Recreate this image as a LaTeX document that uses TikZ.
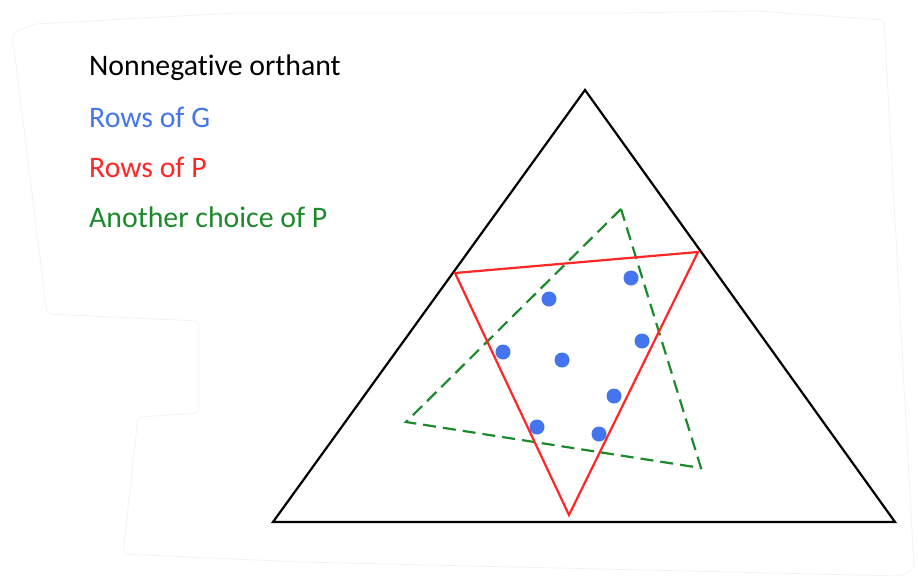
\documentclass[tikz,border=0pt]{standalone}
\usepackage{fontspec}
\setmainfont[Ligatures=NoCommon]{Carlito}
\usetikzlibrary{positioning}
\usepackage{xcolor}
\definecolor{rowsg}{HTML}{4575EE}
\definecolor{rowsp}{HTML}{FF2626}
\definecolor{altp}{HTML}{1B8A2B}
\definecolor{sheet}{HTML}{F2F2F2}

\begin{document}
\begin{tikzpicture}[x=1pt,y=-1pt,line join=miter,
        lbl/.style={anchor=base west,inner sep=0pt,font=\fontsize{29.8}{34}\selectfont},
        dot/.style={circle,fill=rowsg,inner sep=0pt,minimum size=15pt},
        tri/.style={line width=2.2pt}]
        \useasboundingbox (0,0) rectangle (918,579);
        % faint paper edge
        \draw[sheet,line width=0.8pt,rounded corners=4pt] (35,24) -- (234,13) -- (621,13) -- (755,11) -- (884,20)
          -- (914,568) -- (902,576) -- (300,562) -- (123,554) -- (138,417) -- (199,413) -- (199,321)
          -- (47,314) -- (12,33) -- cycle;
        % legend
        \node[lbl] (orth) at (89,75) {Nonnegative orthant};
        \node[lbl,text=rowsg,below=52pt of orth.base west,anchor=base west] (gtxt) {Rows of G};
        \node[lbl,text=rowsp,below=50pt of gtxt.base west,anchor=base west] (ptxt) {Rows of P};
        \node[lbl,text=altp,below=50pt of ptxt.base west,anchor=base west] (qtxt) {Another choice of P};
        % orthant
        \coordinate (oa) at (585,90);
        \coordinate (ol) at (273,522);
        \coordinate (or) at (895,522);
        \draw[tri] (oa) -- (or) -- (ol) -- cycle;
        % another P
        \coordinate (qa) at (621,209);
        \coordinate (ql) at (406,422);
        \coordinate (qr) at (701,468);
        \draw[tri,altp,dash pattern=on 13pt off 7pt] (qa) -- (ql) -- (qr) -- cycle;
        % rows of P
        \coordinate (pl) at (455,273);
        \coordinate (pr) at (698,252);
        \coordinate (pb) at (569,515);
        \draw[tri,rowsp] (pl) -- (pr) -- (pb) -- cycle;
        % rows of G
        \foreach \px/\py [count=\i] in {549/299,631/278,503/352,562/360,642/341,614/396,537/427,599/434}
          \node[dot] (g\i) at (\px,\py) {};
      \end{tikzpicture}
\end{document}
